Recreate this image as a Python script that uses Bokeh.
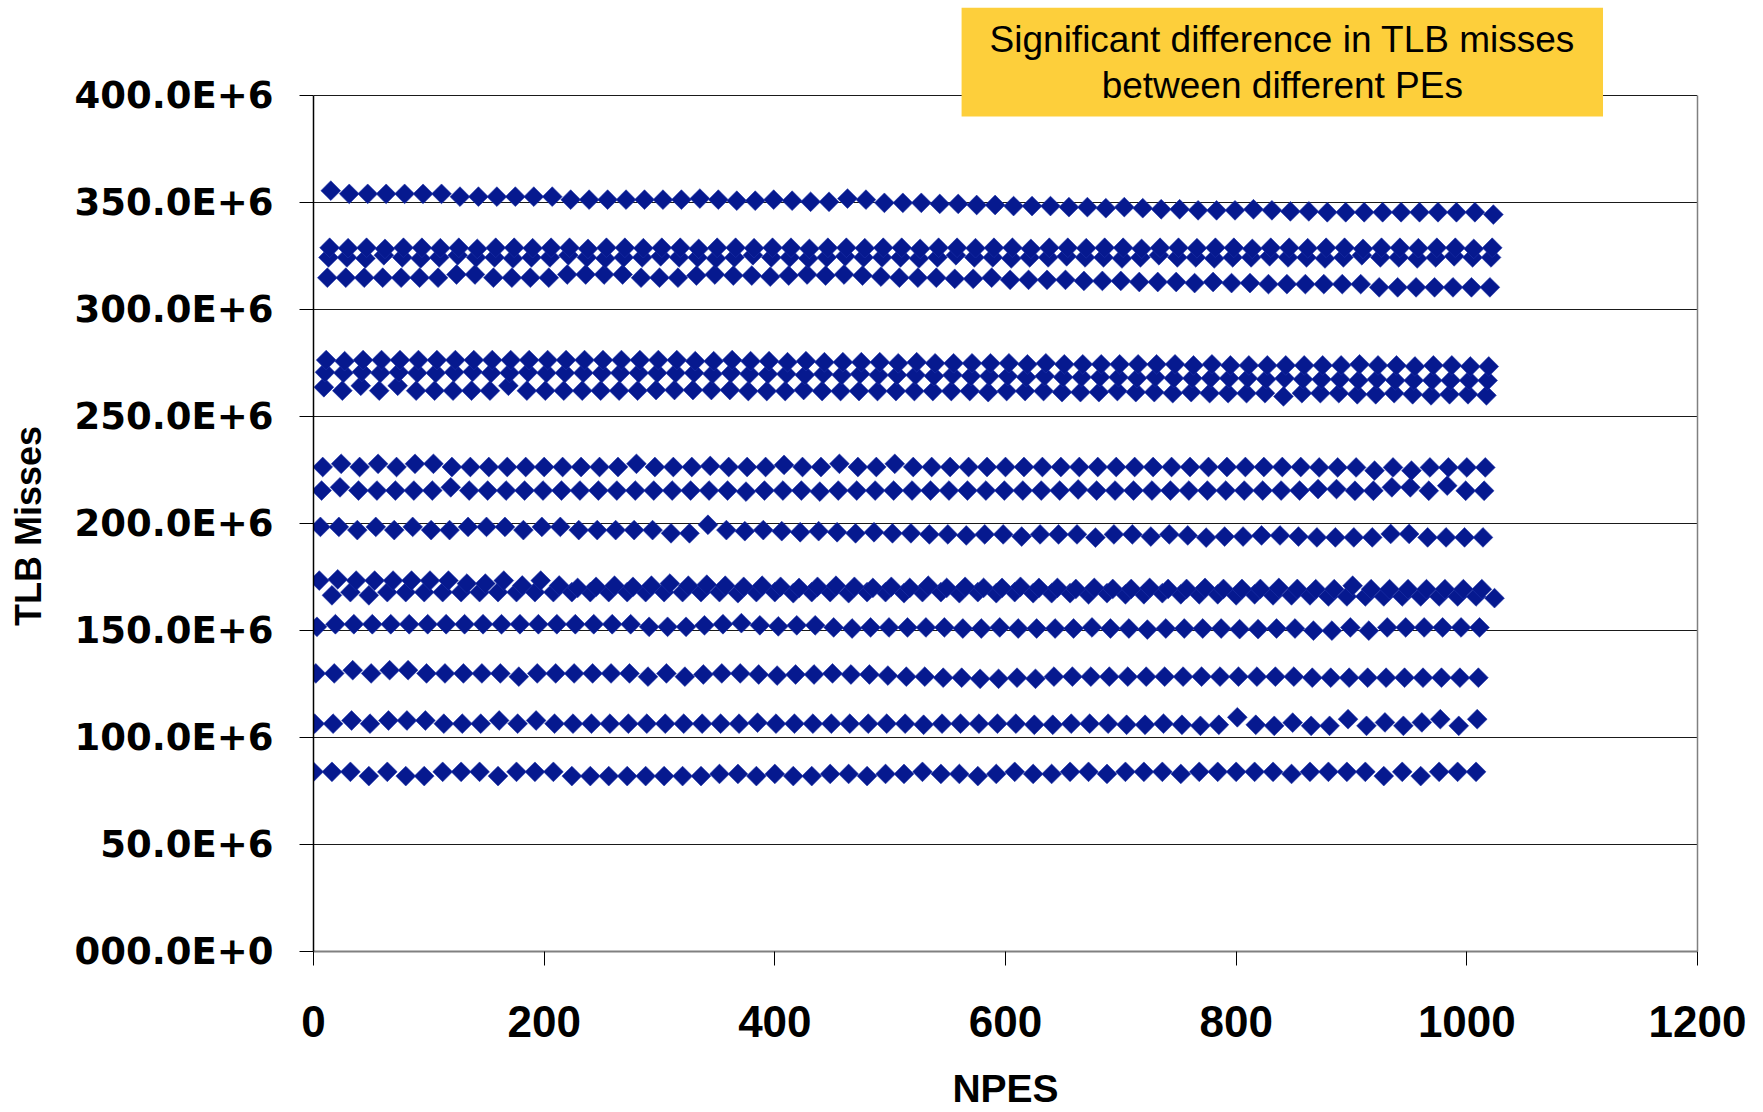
import numpy as np
from bokeh.plotting import figure
from bokeh.models import Range1d, FixedTicker, Label, ColumnDataSource, LinearAxis
from bokeh.embed import file_html
from bokeh.resources import INLINE

# ---------------- data (TLB misses in millions) ----------------
# each series = PEs with the same offset, sampled every 16 PEs
pe_step = 16
pe_offsets = [0, 1, 2, 3, 16, 5, 6, 7, 8, 9, 10, 11, 12, 13, 14, 15]

s00 = [84, 84, 84, 82, 84, 82, 82, 84, 84, 84,
       82, 84, 84, 84, 82, 82, 82, 82, 82, 82,
       82, 82, 83, 83, 82, 83, 82, 82, 83, 83,
       82, 83, 83, 84, 83, 83, 82, 83, 84, 83,
       83, 84, 84, 83, 84, 84, 84, 83, 84, 84,
       84, 84, 84, 83, 84, 84, 84, 84, 82, 84,
       82, 84, 84, 84]
s01 = [106.5, 106.5, 108, 106.5, 108, 108, 108, 106.5, 106.5, 106.5,
       108, 106.5, 108, 106.5, 106.5, 106.5, 106.5, 106.5, 106.5, 106.5,
       106.5, 106.5, 106.5, 106.5, 107, 106.5, 106.5, 106.5, 106.5, 106.5,
       106.5, 106.5, 106.5, 106, 106.5, 106.5, 106.5, 106.5, 106.5, 106,
       106, 106.5, 106.5, 106.5, 106, 106, 106.5, 106, 105.5, 106,
       109.5, 106, 105.5, 107, 105.5, 105.5, 108.6, 105.5, 107.1, 105.5,
       107.1, 108.6, 105.5, 108.6]
s02 = [130, 130, 131.5, 130, 131.5, 131.5, 130, 130, 130, 130,
       130, 128.5, 130, 130, 130, 130, 130, 130, 128.5, 130,
       128.5, 129.5, 130, 130, 129.5, 129, 129.5, 129.5, 130, 129.5,
       129.5, 129, 128.5, 128.5, 128, 128, 127.5, 127.5, 128, 127.5,
       128.5, 128.5, 128.5, 128.5, 128.5, 128.5, 128.5, 128.5, 128.5, 128.5,
       128.5, 128.5, 128.5, 128.5, 128, 128, 128, 128, 128, 128,
       128, 128, 128, 128]
s03 = [151.8, 153, 153, 153, 153, 153, 153, 153, 153, 153,
       153, 153, 153, 153, 153, 153, 153, 153, 151.8, 151.8,
       151.8, 152.5, 153, 153.5, 152.5, 152, 152.5, 152.5, 151.5, 151,
       151.5, 151.5, 151.5, 151.5, 151.5, 151, 151, 151.5, 151, 151,
       151, 151, 151.5, 151, 151, 150.5, 151, 151, 151, 151,
       150.7, 150.7, 151, 151, 150, 150, 151.5, 150, 151.5, 151.5,
       151.5, 151.5, 151.5, 151.5]
s04 = [166.5, 168, 166.5, 168, 168, 168, 168, 168, 168, 168,
       168, 168, 168, 168, 168, 168, 168, 168, 168, 168,
       168, 168, 167.5, 168, 168, 167.5, 168, 168, 167.5, 168,
       168, 167.5, 168, 168, 167.5, 168, 167.5, 168, 167.5, 167.5,
       167.5, 167, 167.5, 167, 167, 167.5, 167, 167, 167, 166.5,
       167, 166.5, 166.5, 166.5, 166, 166, 166, 166, 166, 166,
       166, 166, 166, 165.2]
s05 = [173.4, 174, 173.4, 173.4, 173.4, 173.4, 173.4, 173.4, 172, 172,
       173.4, 171.1, 173.4, 171.1, 170, 170.5, 171, 170.5, 171, 172,
       171, 171.5, 171, 170.5, 171, 170.5, 170, 170.5, 171, 170.5,
       170, 170.5, 170, 171, 170, 170.5, 170, 170, 170.5, 170,
       170, 169.5, 170, 169.5, 169.5, 170, 169.5, 169.5, 170, 169.5,
       169.5, 169.5, 170, 169.5, 169.4, 169.4, 171, 169.4, 169.4, 169.4,
       169.4, 169.4, 169.4, 169.4]
s06 = [198.5, 198.5, 197, 198.5, 197, 198.5, 197, 197, 198.5, 198.5,
       198.5, 197, 198.5, 198.5, 197, 197, 197, 197, 197, 195.5,
       195.5, 199.5, 197, 196.5, 197, 196.5, 196, 196.5, 196, 195.5,
       196, 195.5, 195.5, 195, 195, 194.5, 195, 195, 194, 195,
       195, 195, 193.5, 195, 195, 194, 195, 194.5, 193.5, 194,
       194, 194.5, 194.5, 194, 193.6, 193.6, 193.6, 193.6, 195.2, 195.2,
       193.6, 193.6, 193.6, 193.6]
s07 = [215.5, 217, 215.5, 215.5, 215.5, 215.5, 215.5, 217, 215.5, 215.5,
       215.5, 215.5, 215.5, 215.5, 215.5, 215.5, 215.5, 215.5, 215.5, 215.5,
       215.5, 215.5, 215.5, 215, 215.5, 215.5, 215.5, 215, 215.5, 215.5,
       215.5, 215.5, 215.5, 215.5, 215.5, 215.5, 215.5, 215.5, 215.5, 215.5,
       215.5, 216, 215.5, 215.5, 215.5, 215.5, 215.5, 215.5, 215.5, 215.5,
       215.5, 215.5, 215.5, 215.5, 216.2, 216.2, 215.4, 215.4, 217, 217,
       215.4, 217.8, 215.4, 215.4]
s08 = [226.5, 228, 226.5, 228, 226.5, 228, 228, 226.5, 226.5, 226.5,
       226.5, 226.5, 226.5, 226.5, 226.5, 226.5, 226.5, 228, 226.5, 226.5,
       226.5, 227, 226.5, 226.5, 226.5, 227.5, 226.5, 226.5, 228, 226.5,
       226.5, 228, 226.5, 226.5, 226.5, 226.5, 226.5, 226.5, 226.5, 226.5,
       226.5, 226.5, 226.5, 226.5, 226.5, 226.5, 226.5, 226.5, 226.5, 226.5,
       226.5, 226.5, 226.5, 226.5, 226.3, 226.3, 226.3, 224.8, 226.3, 224.8,
       226.3, 226.3, 226.3, 226.3]
s09 = [263.8, 262.2, 264.5, 262.2, 264.5, 262.2, 262.2, 262.2, 262.2, 262.2,
       264.5, 262.2, 262.2, 262.2, 262.2, 262.2, 262.2, 262.2, 262.5, 262.5,
       262.5, 262.5, 262.5, 262, 262, 262, 262.5, 262, 262, 262,
       262, 262, 262, 262, 262, 262, 261.5, 262, 262, 262,
       261.5, 261.5, 261.5, 262, 261.5, 261.5, 261, 261.5, 261, 261,
       261, 261, 259.5, 261, 261, 261, 260.5, 260.5, 261, 260.5,
       260, 260.5, 260.5, 260]
s10 = [270.8, 270.5, 271, 270.5, 270.8, 270.5, 270.5, 270.8, 271, 270.5,
       270.5, 270.8, 270.5, 270.5, 270.5, 270.5, 270.5, 270.5, 270.5, 270.5,
       270.5, 270, 270.5, 270, 270, 270, 269.5, 270, 269.5, 270,
       269.5, 269.5, 269.5, 269, 269.5, 269, 269, 269, 268.5, 269,
       268.5, 268.5, 268.5, 268.5, 268, 268.5, 268, 268, 268, 268,
       268, 267.5, 268, 267.5, 267.5, 267.5, 267, 267.5, 267, 267,
       267, 267, 267, 267]
s11 = [276.5, 276, 276.5, 276.5, 276.5, 276.5, 276.5, 276.5, 276.5, 276.5,
       276.5, 276.5, 276.5, 276.5, 276.5, 276.5, 276.5, 276.5, 276.5, 276.5,
       276, 276, 276.5, 276, 276, 275.5, 276, 275.5, 275.5, 275.5,
       275.5, 275, 275.5, 275, 275, 275, 275, 275, 274.5, 275,
       274.5, 274.5, 274.5, 274.5, 274.5, 274.5, 274.5, 274, 274.5, 274,
       274, 274, 274, 274, 274, 274, 274.5, 274, 274, 273.5,
       274, 274, 273.5, 273.5]
s12 = [315, 315, 315, 315, 315, 315, 315, 316.5, 316.5, 315,
       315, 315, 315, 316.5, 316.5, 316.5, 316.5, 315, 315, 315,
       316, 316.5, 316, 316, 315.5, 316, 316.5, 316, 316.5, 316,
       315.5, 315, 315, 315, 314.5, 314.5, 315, 314, 314, 314,
       314, 313.5, 313.5, 313.5, 313, 313, 313, 312.5, 313, 312.5,
       312.5, 312, 312, 312, 312, 312, 312, 310.5, 310.5, 310.5,
       310.5, 310.5, 310.5, 310.5]
s13 = [324.5, 324.5, 324, 325.5, 324.5, 324, 324.5, 325.5, 324.5, 324.5,
       324, 324.5, 324.5, 325.5, 324.5, 324, 324.5, 324.5, 325, 324.5,
       324.5, 324, 324.5, 325.5, 324.5, 324.5, 324, 324.5, 325, 324.5,
       324.5, 324.5, 324, 324.5, 325.5, 324.5, 324.5, 324, 324.5, 324.5,
       325, 324.5, 324.5, 324, 324.5, 325.5, 324.5, 324.5, 324, 324.5,
       324.5, 325, 324.5, 324.5, 324, 324.5, 325.5, 324.5, 324.5, 324,
       324.5, 325, 324.5, 324.5]
s14 = [329, 328.8, 329, 328.5, 329, 329, 328.8, 329, 328.5, 329,
       329, 328.8, 329, 329, 328.5, 329, 329, 328.8, 329, 329,
       328.5, 329, 329, 328.8, 329, 329, 328.5, 329, 329, 328.8,
       329, 329, 328.5, 329, 329, 328.8, 329, 329, 328.5, 329,
       329, 328.8, 329, 329, 328.5, 329, 329, 328.8, 329, 329,
       328.5, 329, 329, 328.8, 329, 329, 328.5, 329, 329, 328.8,
       329, 329, 328.5, 329]
s15 = [355.7, 354.2, 354.2, 354.2, 354.2, 354.2, 354.2, 352.9, 352.9, 352.9,
       352.9, 352.9, 352.9, 351.5, 351.5, 351.5, 351.5, 351.5, 351.5, 351.5,
       352, 351.5, 351, 351, 351.5, 351, 350.5, 350.5, 352, 351.5,
       350, 350, 350, 349.5, 349.5, 349, 349, 348.5, 348.5, 348.5,
       348, 348, 347.5, 348, 347.5, 347, 347, 346.5, 346.5, 346.5,
       347, 346.5, 346, 346, 345.6, 345.6, 345.6, 345.6, 345.6, 345.6,
       345.6, 345.6, 345.6, 344.5]

series = [s00, s01, s02, s03, s04, s05, s06, s07, s08, s09, s10, s11, s12, s13, s14, s15]

x_ticks = [0, 200, 400, 600, 800, 1000, 1200]
y_tick_values = [0, 50, 100, 150, 200, 250, 300, 350, 400]
y_tick_labels = ["000.0E+0", "50.0E+6", "100.0E+6", "150.0E+6", "200.0E+6",
                 "250.0E+6", "300.0E+6", "350.0E+6", "400.0E+6"]
note_text = "Significant difference in TLB misses\nbetween different PEs"
x_title = "NPES"
y_title = "TLB Misses"

# ---------------- build source ----------------
xs, ys = [], []
for off, vals in zip(pe_offsets, series):
    assert len(vals) == 64, (off, len(vals))
    for j, v in enumerate(vals):
        xs.append(off + pe_step * j)
        ys.append(v * 1e6)
src = ColumnDataSource(dict(x=xs, y=ys))

# ---------------- figure ----------------
# frame reaches the top of the canvas so the callout box is not clipped;
# axes are bounded to 0..400E+6
y_top = 444.6e6
y_max = 400e6
p = figure(width=1763, height=1112, output_backend="svg", toolbar_location=None,
           x_range=Range1d(0, 1200), y_range=Range1d(0, y_top),
           min_border_left=313, min_border_right=66, min_border_top=0, min_border_bottom=161)
p.background_fill_color = "white"
p.border_fill_color = "white"
p.outline_line_color = None

p.xgrid.grid_line_color = None
p.ygrid.grid_line_color = "#1a1a1a"
p.ygrid.grid_line_width = 1

yticks = [v * 1e6 for v in y_tick_values]
p.yaxis.ticker = FixedTicker(ticks=yticks)
p.yaxis.major_label_overrides = {t: lab for t, lab in zip(yticks, y_tick_labels)}
p.yaxis.bounds = (0, y_max)
p.xaxis.ticker = FixedTicker(ticks=x_ticks)

for ax in (p.xaxis[0], p.yaxis[0]):
    ax.minor_tick_line_color = None
    ax.major_tick_in = 0
    ax.major_tick_out = 14
    ax.major_tick_line_color = "#000000"
    ax.major_label_text_font_style = "bold"
    ax.major_label_text_color = "black"
    ax.axis_label_text_font_style = "bold"
    ax.axis_label_text_color = "black"
    ax.axis_label_text_font = "Liberation Sans"

p.yaxis.axis_line_color = "#000000"
p.yaxis.axis_line_width = 1.5
p.yaxis.major_label_text_font = "DejaVu Sans"
p.yaxis.major_label_text_font_size = "37px"
p.yaxis.major_label_standoff = 26
# the label is centred on the whole frame (which reaches the canvas top);
# trailing no-break spaces move the visible words down to the 0..400E+6 span
p.yaxis.axis_label = y_title + "\u00a0" * 10
p.yaxis.axis_label_text_font_size = "36px"
p.yaxis.axis_label_standoff = 22

p.xaxis.axis_line_color = "#808080"
p.xaxis.axis_line_width = 2
p.xaxis.major_label_text_font = "Liberation Sans"
p.xaxis.major_label_text_font_size = "44px"
p.xaxis.major_label_standoff = 40
p.xaxis.axis_label = x_title
p.xaxis.axis_label_text_font_size = "39px"
p.xaxis.axis_label_standoff = 27

# right border of the plot area
right_border = LinearAxis(bounds=(0, y_max), ticker=FixedTicker(ticks=[]),
                          axis_line_color="#808080", axis_line_width=1.5,
                          major_tick_line_color=None, minor_tick_line_color=None,
                          major_label_text_font_size="0px")
p.add_layout(right_border, "right")

p.scatter("x", "y", source=src, marker="square", size=14, angle=45, angle_units="deg",
          fill_color="#06198F", line_color="#1F33A8", line_width=0.6)

note = Label(x=840, y=415.8e6, x_units="data", y_units="data",
             text=note_text,
             text_align="center", text_baseline="middle",
             text_font="Liberation Sans", text_font_size="37px", text_color="black",
             text_line_height=1.12,
             background_fill_color="#FDCF3B", padding=(28, 11))
p.add_layout(note)

open("out.html", "w").write(file_html(p, INLINE))
